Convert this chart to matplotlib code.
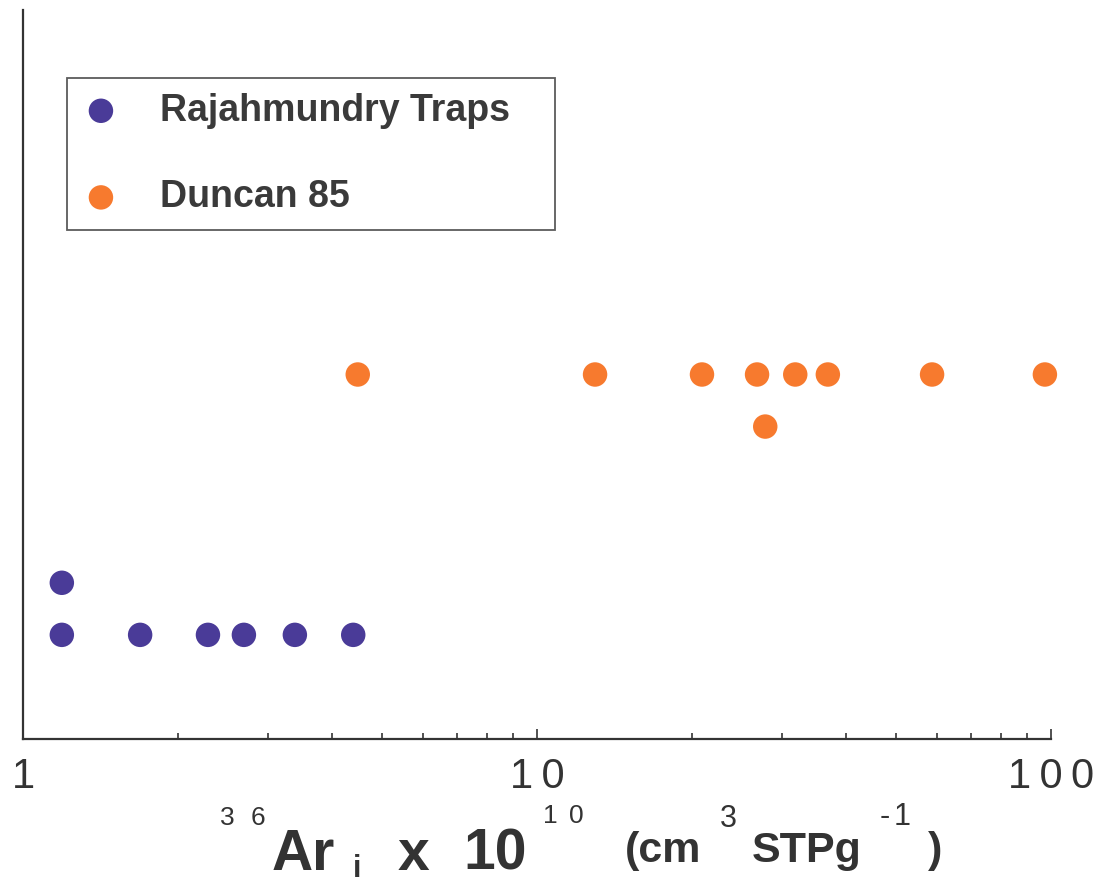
import matplotlib.pyplot as plt
from matplotlib.ticker import FixedLocator, NullFormatter, NullLocator

plt.rcParams['font.family'] = ['Liberation Sans', 'DejaVu Sans']

# Rajahmundry Traps
raj_x = [1.19, 1.69, 2.29, 2.69, 3.38, 4.39, 1.19]
raj_y = [1, 1, 1, 1, 1, 1, 2]

# Duncan 85
dun_x = [4.48, 12.97, 20.94, 26.8, 31.8, 36.8, 58.7, 97.3, 27.8]
dun_y = [6, 6, 6, 6, 6, 6, 6, 6, 5]

major_ticks = [1, 10, 100]
major_labels = ['1', '1\u20090', '1\u20090\u20090']
minor_ticks = [2, 3, 4, 5, 6, 7, 8, 9, 20, 30, 40, 50, 60, 70, 80, 90]

W, H = 1096, 884
fig = plt.figure(figsize=(W / 100, H / 100), dpi=100)
ax = fig.add_axes([23 / W, 1 - 739 / H, (1051 - 23) / W, (739 - 10) / H])

purple = '#4a3b98'
orange = '#f77a2e'
grey = '#333333'

ax.scatter(raj_x, raj_y, s=310, color=purple, edgecolors='none', label='Rajahmundry Traps', clip_on=False, zorder=3)
ax.scatter(dun_x, dun_y, s=310, color=orange, edgecolors='none', label='Duncan 85', clip_on=False, zorder=3)

ax.set_xscale('log')
ax.set_xlim(1, 100)
ax.set_ylim(-1, 13)
ax.xaxis.set_major_locator(FixedLocator(major_ticks))
ax.set_xticklabels(major_labels)
ax.xaxis.set_minor_locator(FixedLocator(minor_ticks))
ax.xaxis.set_minor_formatter(NullFormatter())
ax.yaxis.set_major_locator(NullLocator())
ax.tick_params(axis='x', which='major', direction='in', length=7.5, width=1.2, color=grey,
               labelsize=30, labelcolor=grey, pad=13)
ax.tick_params(axis='x', which='minor', direction='in', length=4.5, width=1.2, color=grey)
for side in ['top', 'right']:
    ax.spines[side].set_visible(False)
for side in ['left', 'bottom']:
    ax.spines[side].set_color(grey)
    ax.spines[side].set_linewidth(1.6)

# legend box: 67..555 px wide, top at 78 px
lx0 = (67 - 23) / 1028
lx1 = (555 - 23) / 1028
ltop = (739 - 78) / 729
leg = ax.legend(loc='upper left', bbox_to_anchor=(lx0, ltop - 0.3, lx1 - lx0, 0.3), mode='expand',
                borderaxespad=0, fancybox=False, frameon=True, edgecolor=grey,
                prop={'size': 27, 'weight': 'bold'}, borderpad=0.39, labelspacing=1.35,
                handlelength=1.03, handletextpad=1.06, scatterpoints=1)
leg.get_frame().set_linewidth(1.3)
for t in leg.get_texts():
    t.set_color('#3a3a3a')


def px(x, y):
    return x / W, 1 - y / H


def piece(x, y, s, size, bold=False):
    fig.text(*px(x, y), s, fontsize=size, weight='bold' if bold else 'normal',
             color=grey, ha='left', va='baseline')


# x axis label pieced together
piece(220, 825, '3', 19)
piece(251, 825, '6', 19)
piece(272, 870, 'Ar', 41, True)
piece(353, 877, 'i', 22, True)
piece(398, 870, 'x', 41, True)
piece(463, 870, '10', 41, True)
piece(543, 823, '1', 19)
piece(569, 823, '0', 19)
piece(625, 862, '(cm', 31, True)
piece(720, 827, '3', 22)
piece(752, 862, 'STPg', 31, True)
piece(880, 825, '-', 22)
piece(894, 825, '1', 22)
piece(928, 862, ')', 31, True)

fig.savefig('out.png', dpi=100)
